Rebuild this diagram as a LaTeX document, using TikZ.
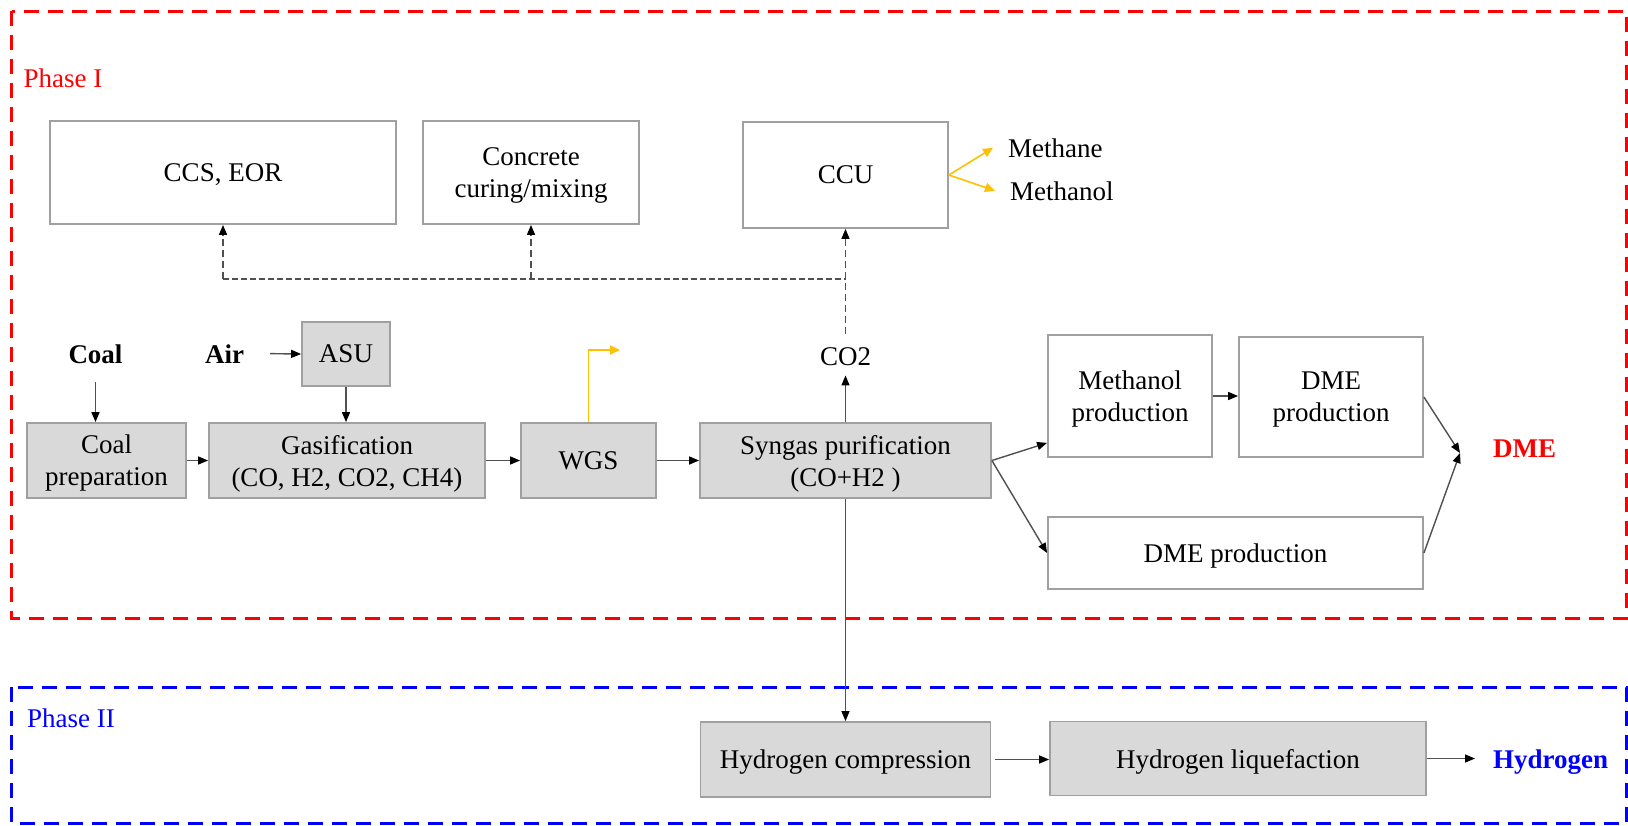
\documentclass[tikz,border=0pt]{standalone}
\usepackage{fontspec}
\setmainfont{Liberation Serif}
\usetikzlibrary{arrows.meta}
\definecolor{boxfill}{HTML}{D9D9D9}
\definecolor{boxline}{HTML}{A0A0A0}
\definecolor{conn}{HTML}{505050}
\definecolor{ylw}{HTML}{FFC000}
\definecolor{phred}{HTML}{FF0000}
\definecolor{phblue}{HTML}{0000FF}
\begin{document}
\begin{tikzpicture}[x=1pt,y=-1pt,
  every node/.style={font=\fontsize{27}{32}\selectfont, inner sep=0pt},
  gbox/.style={draw=boxline, line width=1.8pt, fill=boxfill, align=center, text depth=0pt},
  wbox/.style={draw=boxline, line width=1.8pt, fill=white, align=center, text depth=0pt},
  arr/.style={draw=conn, line width=1.4pt, -{Triangle[length=10pt,width=8pt,color=black]}},
  dline/.style={draw=conn, line width=1.4pt, dash pattern=on 6pt off 3pt},
  darr/.style={arr, dash pattern=on 7pt off 4pt},
  yarr/.style={draw=ylw, line width=1.6pt, -{Triangle[length=10pt,width=9pt]}},
  phase/.style={line width=3pt, dash pattern=on 15pt off 9pt},
]
\useasboundingbox (0,0) rectangle (1628,825);
\fill[white] (0,0) rectangle (1628,825);

% phase frames
\draw[phase, draw=phred] (11.5,11) rectangle (1626,618);
\draw[phase, draw=phblue] (11.5,687) rectangle (1626,823);
\node[anchor=base west, text=phred] (ph1) at (23.5,87) {Phase I};
\node[anchor=base west, text=phblue] (ph2) at (27,727) {Phase II};

% top boxes
\node[wbox, minimum width=346pt, minimum height=103pt] (ccs) at (223,172.5) {CCS, EOR};
\node[wbox, minimum width=216pt, minimum height=103pt] (conc) at (531,172.5) {Concrete\\curing/mixing};
\node[wbox, minimum width=205pt, minimum height=106pt] (ccu) at (845.5,175) {CCU};
\node[anchor=base west] (methane) at (1008,157) {Methane};
\node[anchor=base west] (methanol) at (1010,200) {Methanol};

% main line
\node[anchor=base, font=\fontsize{27}{32}\selectfont\bfseries] (coal) at (95.5,363) {Coal};
\node[anchor=base, font=\fontsize{27}{32}\selectfont\bfseries] (air) at (224.5,363) {Air};
\node[gbox, minimum width=88pt, minimum height=64pt] (asu) at (346,354) {ASU};
\node[gbox, minimum width=159pt, minimum height=75pt] (prep) at (106.5,460.5) {Coal\\preparation};
\node[gbox, minimum width=276pt, minimum height=75pt] (gas) at (347,460.5) {Gasification\\(CO, H2, CO2, CH4)};
\node[gbox, minimum width=135pt, minimum height=75pt] (wgs) at (588.5,460.5) {WGS};
\node[gbox, minimum width=291pt, minimum height=75pt] (syn) at (845.5,460.5) {Syngas purification\\(CO+H2~)};
\node[anchor=base] (co2) at (845.5,365) {CO2};

% DME branch
\node[wbox, minimum width=164pt, minimum height=122pt] (mprod) at (1130,396) {Methanol\\production};
\node[wbox, minimum width=184pt, minimum height=120pt] (dprod) at (1331,397) {DME\\production};
\node[wbox, minimum width=375pt, minimum height=72pt] (dprod2) at (1235.5,553) {DME production};
\node[anchor=base west, text=phred, font=\fontsize{27}{32}\selectfont\bfseries] (dme) at (1493,457) {DME};

% hydrogen branch
\node[gbox, minimum width=290pt, minimum height=75pt] (comp) at (845.5,759.5) {Hydrogen compression};
\node[gbox, minimum width=376pt, minimum height=74pt] (liq) at (1238,758.5) {Hydrogen liquefaction};
\node[anchor=base west, text=phblue, font=\fontsize{27}{32}\selectfont\bfseries] (hyd) at (1493,768) {Hydrogen};

% coordinates
\coordinate (j1) at (845.5,279);
\coordinate (wgsout) at (620,350);
\coordinate (dmein) at (1460,453);
\coordinate (hydtip) at (1475,758.5);

% dashed CO2 distribution
\draw[dline] (ccs.south |- j1) -- (j1);
\draw[darr] (ccs.south |- j1) -- (ccs.south);
\draw[darr] (conc.south |- j1) -- (conc.south);
\draw[darr] ([yshift=13pt]co2.north) -- (ccu.south);

% yellow
\draw[yarr] (ccu.east) -- ([xshift=-15pt]methane.west);
\draw[yarr] (ccu.east) -- ([xshift=-15pt]methanol.west);
\draw[yarr] (wgs.north) |- (wgsout);

% solid connectors
\draw[arr] ([yshift=-19pt]coal.south) -- (coal.south |- prep.north);
\draw[arr] ([xshift=26pt]air.east) -- (asu.west);
\draw[arr] (asu.south) -- (asu.south |- gas.north);
\draw[arr] (prep.east) -- (gas.west);
\draw[arr] (gas.east) -- (wgs.west);
\draw[arr] (wgs.east) -- (syn.west);
\draw[arr] (syn.north) -- ([yshift=-10pt]co2.south);
\draw[arr] (syn.south) -- (syn.south |- comp.north);
\draw[arr] (syn.east) -- ([yshift=15pt]mprod.south west);
\draw[arr] (syn.east) -- (dprod2.west);
\draw[arr] (mprod.east) -- (mprod.east -| dprod.west);
\draw[arr] (dprod.east) -- (dmein);
\draw[arr] (dprod2.east) -- (dmein);
\draw[arr] ([xshift=4pt]comp.east) -- (comp.east -| liq.west);
\draw[arr] (liq.east) -- (hydtip);
\end{tikzpicture}
\end{document}
